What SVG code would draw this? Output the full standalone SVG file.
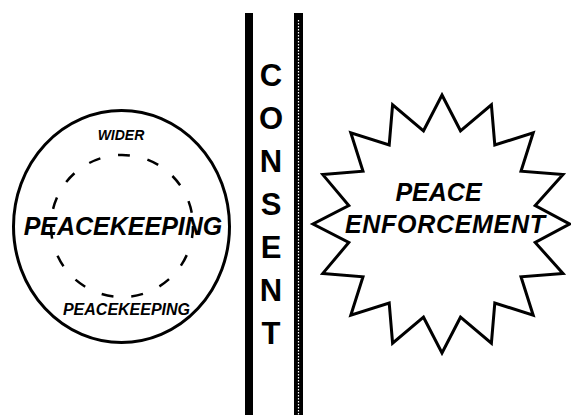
<svg xmlns="http://www.w3.org/2000/svg" width="571" height="415" viewBox="0 0 571 415">
<style>
.line{fill:none;stroke:#000;stroke-width:3}
.t{font-family:"Liberation Sans",Arial,sans-serif;font-weight:bold;fill:#000}
.i{font-style:italic}
</style>
<rect width="571" height="415" fill="#fff"/>
<g id="consent">
  <rect x="245" y="13" width="8" height="402" fill="#000"/>
  <rect x="294" y="13" width="9" height="402" fill="#000"/>
  <line x1="298.5" y1="20" x2="298.5" y2="415" stroke="#fff" stroke-width="1.2" stroke-dasharray="1.5 1.5"/>
  <g class="t" font-size="31" text-anchor="middle">
    <text x="271" y="86">C</text>
    <text x="271" y="129">O</text>
    <text x="271" y="172">N</text>
    <text x="271" y="215">S</text>
    <text x="271" y="258">E</text>
    <text x="271" y="301">N</text>
    <text x="271" y="344">T</text>
  </g>
</g>
<g id="peacekeeping">
  <ellipse class="line" cx="121.5" cy="226.5" rx="108" ry="116"/>
  <circle cx="122" cy="226" r="71" fill="none" stroke="#000" stroke-width="2.5" stroke-dasharray="12 18"/>
  <text class="t i" x="121" y="140" font-size="14" text-anchor="middle">WIDER</text>
  <text class="t i" x="123" y="235" font-size="25" text-anchor="middle">PEACEKEEPING</text>
  <text class="t i" x="126.5" y="315" font-size="16" text-anchor="middle">PEACEKEEPING</text>
</g>
<g id="enforcement">
  <polygon class="line" stroke-linejoin="miter" points="442,95 460.5,130.8 491.4,104.8 494.8,145 533.2,132.8 521,171.2 563,174.6 535.2,205.5 569.5,224 535.2,242.5 563,273.4 521,276.8 533.2,315.2 494.8,303 491.4,343.2 460.5,317.2 442,353 423.5,317.2 392.6,343.2 389.2,303 350.8,315.2 363,276.8 322.8,273.4 348.8,242.5 313,224 348.8,205.5 322.8,174.6 363,171.2 350.8,132.8 389.2,145 392.6,104.8 423.5,130.8"/>
  <text class="t i" x="438.5" y="201" font-size="25" text-anchor="middle">PEACE</text>
  <text class="t i" x="445" y="233" font-size="25" text-anchor="middle" textLength="200" lengthAdjust="spacing">ENFORCEMENT</text>
</g>
</svg>
